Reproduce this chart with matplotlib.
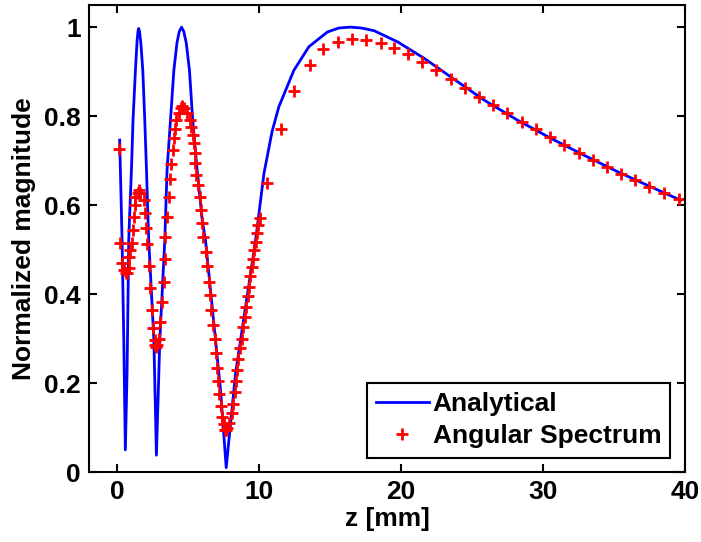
import numpy as np
import matplotlib.pyplot as plt

# analytical curve
z_line = [0.16, 0.33, 0.45, 0.56, 0.68, 0.80, 0.85, 0.99, 1.10, 1.27, 1.39, 1.45, 1.50,
          1.56, 1.65, 1.79, 1.93, 2.05, 2.16, 2.21, 2.57, 2.75, 2.99, 3.34, 3.50, 3.74,
          3.98, 4.20, 4.36, 4.52, 4.68, 4.85, 5.08, 5.31, 5.62, 5.98, 6.21, 6.80, 7.27, 7.67,
          7.86, 8.33, 9.03, 9.74, 10.33, 10.9, 11.38, 12.44, 13.5, 14.8, 15.6, 16.44, 17.2,
          18.09, 19.74, 21.62, 23.5, 25.85, 28.2, 30.56, 32.9, 35.26, 37.6, 39.7]
v_line = [0.746, 0.521, 0.297, 0.05, 0.222, 0.521, 0.566, 0.679, 0.79, 0.903, 0.97, 0.99, 0.997,
          0.99, 0.965, 0.903, 0.79, 0.679, 0.566, 0.521, 0.297, 0.038, 0.297, 0.521, 0.679, 0.79,
          0.903, 0.965, 0.99, 1.0, 0.99, 0.965, 0.903, 0.79, 0.679, 0.566, 0.521, 0.334, 0.184, 0.01,
          0.072, 0.222, 0.371, 0.521, 0.671, 0.765, 0.821, 0.903, 0.956, 0.989, 0.998, 1.0, 0.998,
          0.992, 0.967, 0.93, 0.888, 0.836, 0.791, 0.75, 0.712, 0.675, 0.641, 0.611]

# angular spectrum points
z_as = [0.14, 0.21, 0.33, 0.45, 0.60, 0.68, 0.80, 0.85, 0.92, 1.04, 1.08, 1.15, 1.22,
        1.27, 1.42, 1.50, 1.58, 1.86, 1.93, 2.03, 2.09, 2.26, 2.33, 2.45, 2.52, 2.63,
        2.68, 2.73, 2.78, 2.92, 3.03, 3.15, 3.27, 3.34, 3.39, 3.51, 3.62, 3.74, 3.81,
        3.93, 3.98, 4.05, 4.14, 4.33, 4.45, 4.56, 4.68, 4.92, 5.15, 5.22, 5.31, 5.39,
        5.45, 5.50, 5.55, 5.69, 5.79, 5.86, 5.98, 6.05, 6.21, 6.33, 6.45, 6.53, 6.60,
        6.73, 6.87, 6.96, 7.04, 7.10, 7.15, 7.27, 7.34, 7.50, 7.60, 7.67, 7.75, 7.86,
        8.05, 8.17, 8.28, 8.33, 8.40, 8.52, 8.61, 8.75, 8.84, 8.98, 9.08, 9.20, 9.27,
        9.34, 9.46, 9.55, 9.62, 9.79, 9.86, 9.93, 10.05, 10.51, 11.5, 12.44, 13.57,
        14.52, 15.55, 16.51, 17.5, 18.56, 19.5, 20.51, 21.5, 22.49, 23.5, 24.51, 25.5,
        26.49, 27.45, 28.51, 29.5, 30.51, 31.5, 32.51, 33.5, 34.51, 35.5, 36.51, 37.5,
        38.55, 39.57]
v_as = [0.725, 0.515, 0.47, 0.454, 0.447, 0.447, 0.458, 0.484, 0.50, 0.515, 0.544, 0.574, 0.60,
        0.619, 0.628, 0.634, 0.628, 0.611, 0.583, 0.548, 0.512, 0.463, 0.413, 0.364, 0.323, 0.297,
        0.285, 0.282, 0.285, 0.30, 0.338, 0.383, 0.428, 0.48, 0.529, 0.574, 0.619, 0.658, 0.692,
        0.724, 0.75, 0.772, 0.791, 0.806, 0.818, 0.822, 0.818, 0.806, 0.791, 0.775, 0.757, 0.739,
        0.718, 0.694, 0.667, 0.645, 0.619, 0.589, 0.559, 0.529, 0.495, 0.463, 0.428, 0.398, 0.364,
        0.330, 0.299, 0.267, 0.235, 0.205, 0.175, 0.149, 0.124, 0.109, 0.095, 0.094, 0.10, 0.111,
        0.132, 0.154, 0.180, 0.205, 0.229, 0.255, 0.278, 0.300, 0.325, 0.348, 0.371, 0.395, 0.416,
        0.44, 0.461, 0.48, 0.499, 0.518, 0.538, 0.555, 0.570, 0.649, 0.772, 0.857, 0.914,
        0.950, 0.967, 0.974, 0.972, 0.965, 0.952, 0.939, 0.921, 0.903, 0.884, 0.864, 0.843,
        0.826, 0.806, 0.787, 0.770, 0.752, 0.735, 0.718, 0.701, 0.685, 0.670, 0.656, 0.641,
        0.628, 0.613]

plt.rcParams['font.family'] = ['Liberation Sans', 'DejaVu Sans']
plt.rcParams['font.weight'] = 'bold'
plt.rcParams['font.size'] = 19

fig = plt.figure(figsize=(7.01, 5.42), dpi=100)
ax = fig.add_axes([0.127, 0.129, 0.85, 0.862])

ax.plot(z_line, v_line, color='#0000ff', lw=2, label='Analytical')
ax.plot(z_as, v_as, '+', color='red', ms=8, mew=2, label='Angular Spectrum')

ax.set_xlim(-2, 40)
ax.set_ylim(0, 1.05)
ax.set_xticks([0, 10, 20, 30, 40])
ax.set_yticks([0, 0.2, 0.4, 0.6, 0.8, 1])
ax.set_yticklabels(['0', '0.2', '0.4', '0.6', '0.8', '1'])
ax.tick_params(direction='in', length=6, width=1.5, top=True, right=True, pad=6)
for s in ax.spines.values():
    s.set_linewidth(1.5)

ax.set_xlabel('z [mm]', fontweight='bold', labelpad=2)
ax.set_ylabel('Normalized magnitude', fontweight='bold', labelpad=6)

leg = ax.legend(loc='lower right', fancybox=False, edgecolor='black', framealpha=1,
                borderaxespad=0.55, handlelength=2.0, labelspacing=0.3, borderpad=0.35,
                handletextpad=0.15)
leg.get_frame().set_linewidth(1.5)

fig.savefig('out.png', dpi=100)
